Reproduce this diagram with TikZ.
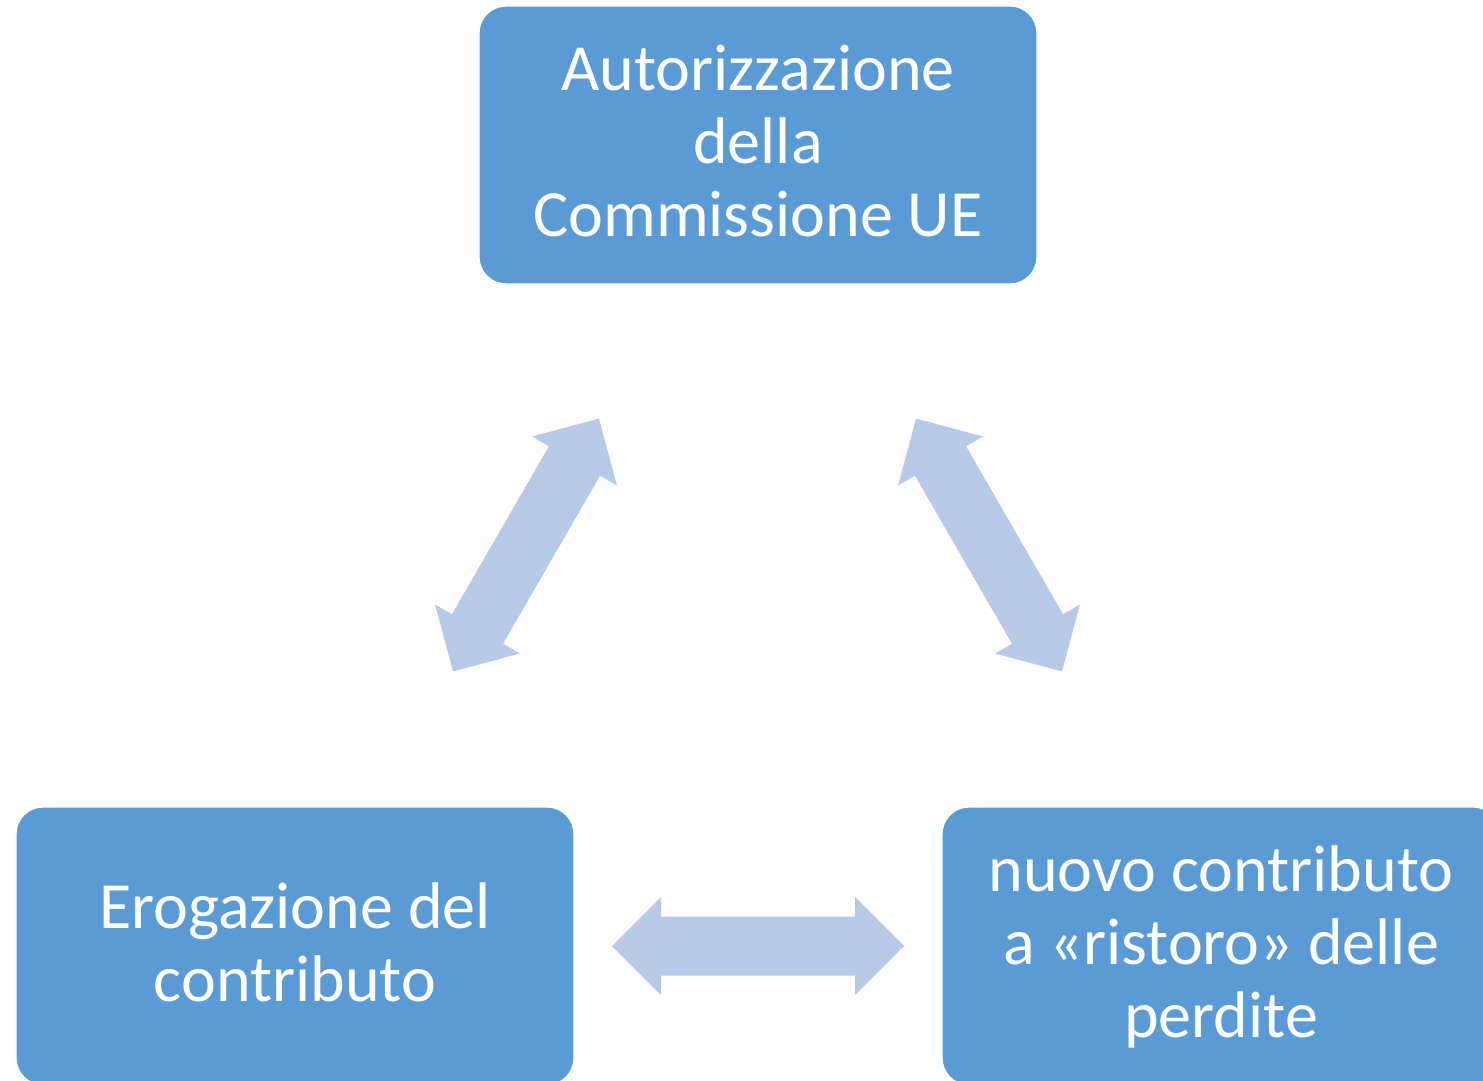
\documentclass[tikz,border=0pt]{standalone}
\usepackage{fontspec}
\setmainfont{Carlito}
\definecolor{boxblue}{HTML}{5B9BD5}
\definecolor{arrowblue}{HTML}{B6CAE8}
\newcommand{\lstrut}{\rule[-9pt]{0pt}{36.5pt}}
\tikzset{
  stagebox/.style={rectangle, rounded corners=13.5pt, fill=boxblue, draw=white, line width=0.6pt,
    minimum width=279pt, minimum height=139pt, inner sep=0pt, align=center, text=white,
    font=\fontsize{33pt}{36.5pt}\selectfont},
  dblarr/.pic={
    \fill[arrowblue] (-146,0) -- (-97,-49) -- (-97,-29.5) -- (97,-29.5) -- (97,-49) -- (146,0)
      -- (97,49) -- (97,29.5) -- (-97,29.5) -- (-97,49) -- cycle;
  }
}
\begin{document}
\begin{tikzpicture}[x=0.5pt, y=-0.5pt]
\useasboundingbox (0,0) rectangle (1483,1081);
\clip (0,0) rectangle (1483,1081);
\fill[white] (0,0) rectangle (1483,1081);
\node[stagebox] (aut) at (758,145) {\lstrut Autorizzazione\\\lstrut della\\\lstrut Commissione UE};
\node[stagebox] (ero) at (295,946) {\lstrut Erogazione del\\\lstrut contributo};
\node[stagebox] (nuo) at (1221,946) {\lstrut nuovo contributo\\\lstrut a «ristoro» delle\\\lstrut perdite};
\pic[rotate=60] (arrL) at (526,545) {dblarr};
\pic[rotate=-60] (arrR) at (989,545) {dblarr};
\pic (arrB) at (758,946) {dblarr};
\end{tikzpicture}
\end{document}
